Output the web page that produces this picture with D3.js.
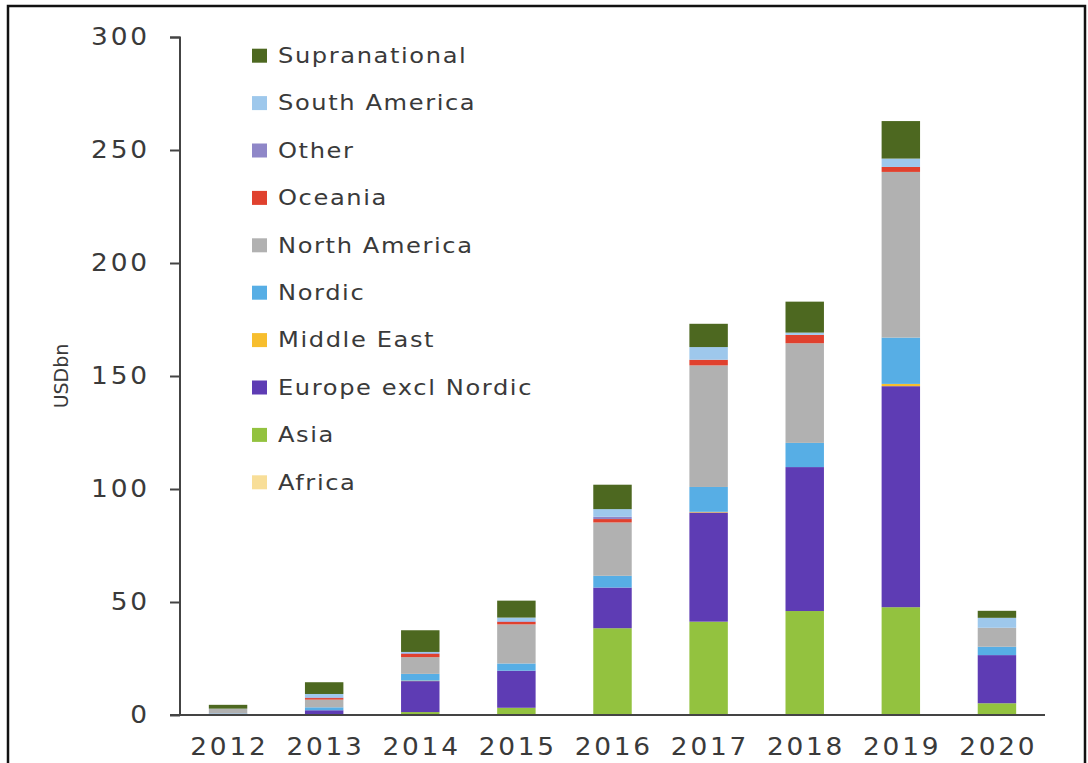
<!DOCTYPE html>
<html>
<head>
<meta charset="utf-8">
<script src="https://cdn.jsdelivr.net/npm/d3@7/dist/d3.min.js"></script>
<style>
  html, body { margin: 0; padding: 0; background: #fff; }
  svg { display: block; }
</style>
</head>
<body>
<svg id="chart" width="1088" height="763"></svg>
<script>
// ---- data ----
const years = ["2012","2013","2014","2015","2016","2017","2018","2019","2020"];
const seriesNames = ["Africa","Asia","Europe excl Nordic","Middle East","Nordic","North America","Oceania","Other","South America","Supranational"];
const africa        = [0,   0,   0,   0,   0,    0,    0,    0,    0];
const asia          = [0.2, 0.3, 1.3, 3.2, 38.4, 41.3, 46.0, 47.7, 5.2];
const europeExNord  = [0.3, 1.8, 13.7,16.4,18.0, 48.3, 63.7, 97.8, 21.3];
const middleEast    = [0,   0,   0.2, 0,   0,    0.3,  0,    1.0,  0];
const nordic        = [0.2, 1.3, 3.0, 3.2, 5.2,  11.0, 10.7, 20.5, 3.7];
const northAmerica  = [2.0, 3.4, 7.4, 17.3,23.6, 53.8, 44.1, 73.3, 8.4];
const oceania       = [0,   0.7, 1.5, 1.1, 1.5,  2.5,  3.7,  2.2,  0];
const other         = [0,   0.3, 0.3, 0.3, 1.0,  0,    0,    0,    0];
const southAmerica  = [0.1, 1.5, 0.5, 1.6, 3.4,  5.6,  1.0,  3.7,  4.4];
const supranational = [1.7, 5.2, 9.6, 7.5, 10.8, 10.3, 13.7, 16.6, 3.1];
const yTicks = [0, 50, 100, 150, 200, 250, 300];
const legendOrder = ["Supranational","South America","Other","Oceania","North America","Nordic","Middle East","Europe excl Nordic","Asia","Africa"];

const seriesValues = [africa, asia, europeExNord, middleEast, nordic, northAmerica, oceania, other, southAmerica, supranational];
const colors = {
  "Africa": "#F8DE98",
  "Asia": "#93C23F",
  "Europe excl Nordic": "#5E3CB4",
  "Middle East": "#F7BE2E",
  "Nordic": "#57AEE5",
  "North America": "#B1B1B1",
  "Oceania": "#E0412E",
  "Other": "#8F87C8",
  "South America": "#9EC8EC",
  "Supranational": "#4D6820"
};

const table = years.map((y, i) => {
  const row = { year: y };
  seriesNames.forEach((s, k) => row[s] = seriesValues[k][i]);
  return row;
});

const svg = d3.select("#chart");

// frame
svg.append("path")
  .attr("d", "M8,770 L8,6 L1085,6 L1085,770")
  .attr("fill", "none").attr("stroke", "#111").attr("stroke-width", 2.5);

const x = d3.scaleBand().domain(years).range([180, 1045]).paddingInner(0.6).paddingOuter(0.3);
const y = d3.scaleLinear().domain([0, 300]).range([715, 37]);

const stack = d3.stack().keys(seriesNames)(table);

svg.append("g").selectAll("g").data(stack).join("g")
  .attr("fill", d => colors[d.key])
  .selectAll("rect").data(d => d).join("rect")
  .attr("x", d => x(d.data.year))
  .attr("width", x.bandwidth())
  .attr("y", d => y(d[1]))
  .attr("height", d => Math.max(0, y(d[0]) - y(d[1])));

const axisColor = "#444";
const textColor = "#3a3a3a";
const font = "DejaVu Sans, sans-serif";

// y axis
const yAxis = svg.append("g").attr("transform", "translate(180,0)")
  .call(d3.axisLeft(y).tickValues(yTicks).tickSize(10).tickPadding(20));
yAxis.select(".domain").attr("stroke", axisColor).attr("stroke-width", 2).attr("d", "M-10,37.5H0V715");
yAxis.selectAll(".tick line").attr("stroke", axisColor).attr("stroke-width", 2);
yAxis.selectAll(".tick text").attr("fill", textColor).attr("font-family", font)
  .attr("font-size", 24).style("letter-spacing", "2.5px").attr("dx", "2.5px")
  .attr("transform", "scale(1.1,1)");

// x axis
const xAxis = svg.append("g").attr("transform", "translate(0,715)")
  .call(d3.axisBottom(x).tickSize(0).tickPadding(23));
xAxis.select(".domain").attr("stroke", axisColor).attr("stroke-width", 2).attr("d", "M170,0H1045");
xAxis.selectAll(".tick text").attr("fill", textColor).attr("font-family", font)
  .attr("font-size", 24).style("letter-spacing", "2.5px").attr("dx", "1.2px")
  .attr("transform", "scale(1.1,1)");

// y title
svg.append("text")
  .attr("transform", "translate(68,376) rotate(-90)")
  .attr("text-anchor", "middle")
  .attr("fill", textColor).attr("font-family", font).attr("font-size", 19)
  .text("USDbn");

// legend
const lg = svg.append("g");
const ly = d3.scaleBand().domain(legendOrder).range([32, 506]);
const items = lg.selectAll("g").data(legendOrder).join("g")
  .attr("transform", d => `translate(252,${ly(d) + ly.bandwidth() / 2})`);
items.append("rect").attr("x", 0).attr("y", -7).attr("width", 15).attr("height", 14)
  .attr("fill", d => colors[d]);
items.append("text").attr("dy", "0.35em")
  .attr("transform", "translate(26,0) scale(1.15,1)")
  .attr("fill", textColor).attr("font-family", font).attr("font-size", 21)
  .style("letter-spacing", "1.4px")
  .text(d => d);
</script>
</body>
</html>
